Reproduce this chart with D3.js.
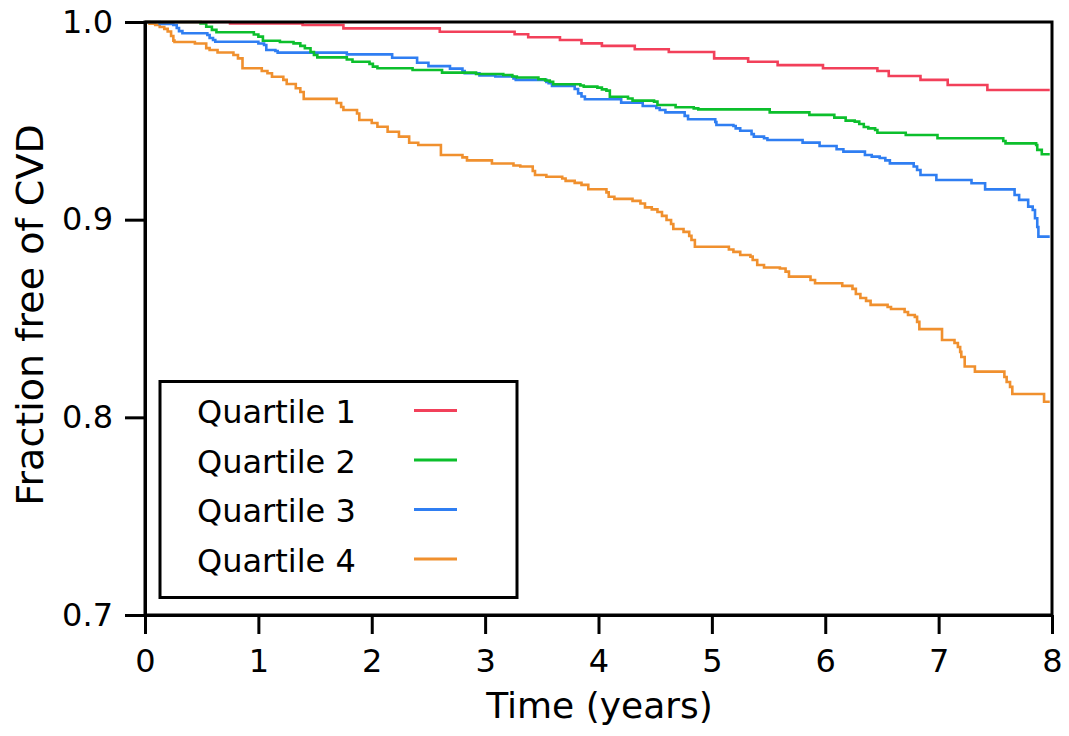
<!DOCTYPE html>
<html>
<head>
<meta charset="utf-8">
<script src="https://cdn.jsdelivr.net/npm/d3@7"></script>
<style>
  body { margin: 0; background: #fff; }
  svg text { font-family: "DejaVu Sans", sans-serif; fill: #000; }
</style>
</head>
<body>
<svg id="chart" width="1069" height="736"></svg>
<script>
// 1: DATA (step points: time in years, fraction free after the drop)
const groups = ["Quartile 1", "Quartile 2", "Quartile 3", "Quartile 4"];
const colors = ["#f2405a", "#0cbf2c", "#2f7ef2", "#f0902e"];
const xTicks = [0, 1, 2, 3, 4, 5, 6, 7, 8];
const yTicks = [0.7, 0.8, 0.9, 1.0];
const endTime = 7.98;

const q1Times = [0, 0.75, 1.39, 1.75, 2.60, 3.26, 3.38, 3.66, 3.85, 4.03, 4.32, 4.62, 5.02, 5.32, 5.58, 5.98, 6.46, 6.56, 6.84, 7.08, 7.43];
const q1Surv  = [1, 0.9993, 0.9985, 0.9968, 0.9951, 0.9938, 0.9923, 0.9909, 0.9892, 0.9879, 0.9862, 0.9848, 0.9816, 0.9799, 0.9782, 0.9766, 0.9752, 0.9727, 0.9707, 0.9681, 0.9656];

const q2Times = [0, 0.49, 0.54, 0.59, 0.63, 0.96, 1.00, 1.04, 1.19, 1.31, 1.37, 1.41, 1.46, 1.49, 1.52, 1.78, 1.83, 1.98, 2.01, 2.05, 2.36, 2.62, 2.92, 3.16, 3.24, 3.28, 3.47, 3.53, 3.57, 3.60, 3.84, 3.87, 3.99, 4.03, 4.07, 4.10, 4.26, 4.30, 4.49, 4.52, 4.68, 4.84, 4.88, 5.51, 5.86, 6.08, 6.18, 6.26, 6.30, 6.34, 6.38, 6.44, 6.46, 6.71, 6.99, 7.57, 7.59, 7.86, 7.87, 7.91];
const q2Surv  = [1, 0.9993, 0.9976, 0.9960, 0.9948, 0.9937, 0.9926, 0.9905, 0.9899, 0.9892, 0.9879, 0.9867, 0.9848, 0.9833, 0.9821, 0.9810, 0.9799, 0.9788, 0.9774, 0.9766, 0.9757, 0.9744, 0.9737, 0.9732, 0.9724, 0.9719, 0.9710, 0.9704, 0.9698, 0.9685, 0.9679, 0.9673, 0.9668, 0.9659, 0.9653, 0.9622, 0.9613, 0.9602, 0.9597, 0.9580, 0.9569, 0.9563, 0.9558, 0.9543, 0.9530, 0.9516, 0.9501, 0.9496, 0.9484, 0.9469, 0.9462, 0.9454, 0.9440, 0.9428, 0.9412, 0.9398, 0.9386, 0.9378, 0.9353, 0.9331];

const q3Times = [0, 0.13, 0.25, 0.28, 0.30, 0.33, 0.55, 0.57, 0.60, 0.62, 1.00, 1.05, 1.07, 1.15, 1.17, 1.78, 2.18, 2.40, 2.50, 2.69, 2.80, 2.82, 2.95, 3.09, 3.25, 3.27, 3.54, 3.56, 3.59, 3.79, 3.82, 3.85, 3.88, 4.20, 4.39, 4.51, 4.54, 4.59, 4.76, 4.79, 5.03, 5.04, 5.19, 5.21, 5.25, 5.35, 5.37, 5.46, 5.49, 5.80, 5.95, 6.10, 6.16, 6.35, 6.41, 6.48, 6.53, 6.57, 6.78, 6.81, 6.84, 6.98, 7.29, 7.41, 7.67, 7.71, 7.79, 7.83, 7.85, 7.87, 7.88];
const q3Surv  = [1, 0.9990, 0.9985, 0.9970, 0.9954, 0.9943, 0.9934, 0.9919, 0.9909, 0.9900, 0.9891, 0.9884, 0.9858, 0.9853, 0.9845, 0.9836, 0.9819, 0.9794, 0.9777, 0.9764, 0.9752, 0.9741, 0.9729, 0.9724, 0.9715, 0.9707, 0.9697, 0.9690, 0.9676, 0.9661, 0.9639, 0.9623, 0.9609, 0.9592, 0.9575, 0.9565, 0.9555, 0.9543, 0.9525, 0.9508, 0.9494, 0.9479, 0.9474, 0.9462, 0.9450, 0.9433, 0.9420, 0.9412, 0.9403, 0.9390, 0.9373, 0.9356, 0.9344, 0.9327, 0.9319, 0.9312, 0.9300, 0.9285, 0.9269, 0.9251, 0.9226, 0.9201, 0.9184, 0.9153, 0.9125, 0.9100, 0.9066, 0.9049, 0.9007, 0.8963, 0.8914];

const q4Times = [0, 0.04, 0.09, 0.13, 0.17, 0.20, 0.23, 0.25, 0.26, 0.44, 0.54, 0.57, 0.64, 0.78, 0.82, 0.86, 1.03, 1.08, 1.12, 1.22, 1.25, 1.33, 1.37, 1.40, 1.69, 1.73, 1.75, 1.87, 1.89, 2.00, 2.05, 2.14, 2.24, 2.33, 2.41, 2.61, 2.80, 2.84, 3.06, 3.25, 3.31, 3.42, 3.44, 3.54, 3.68, 3.71, 3.79, 3.85, 3.91, 4.07, 4.09, 4.14, 4.30, 4.37, 4.41, 4.47, 4.52, 4.56, 4.60, 4.64, 4.66, 4.75, 4.80, 4.82, 4.85, 5.15, 5.19, 5.25, 5.34, 5.36, 5.40, 5.46, 5.60, 5.65, 5.68, 5.87, 5.91, 6.15, 6.24, 6.27, 6.31, 6.36, 6.40, 6.55, 6.58, 6.70, 6.73, 6.79, 6.81, 6.83, 7.03, 7.14, 7.17, 7.19, 7.20, 7.23, 7.32, 7.58, 7.60, 7.63, 7.65, 7.93];
const q4Surv  = [1, 0.9992, 0.9985, 0.9975, 0.9965, 0.9952, 0.9929, 0.9906, 0.9899, 0.9891, 0.9868, 0.9858, 0.9846, 0.9833, 0.9816, 0.9766, 0.9752, 0.9741, 0.9723, 0.9707, 0.9686, 0.9665, 0.9646, 0.9611, 0.9590, 0.9570, 0.9555, 0.9537, 0.9504, 0.9489, 0.9470, 0.9445, 0.9420, 0.9389, 0.9378, 0.9327, 0.9315, 0.9300, 0.9284, 0.9274, 0.9269, 0.9246, 0.9226, 0.9217, 0.9208, 0.9196, 0.9186, 0.9176, 0.9154, 0.9138, 0.9116, 0.9105, 0.9095, 0.9082, 0.9062, 0.9052, 0.9039, 0.9019, 0.8998, 0.8978, 0.8953, 0.8938, 0.8918, 0.8897, 0.8863, 0.8849, 0.8837, 0.8821, 0.8813, 0.8796, 0.8771, 0.8758, 0.8753, 0.8737, 0.8712, 0.8695, 0.8678, 0.8665, 0.8650, 0.8624, 0.8604, 0.8589, 0.8569, 0.8558, 0.8548, 0.8533, 0.8518, 0.8508, 0.8483, 0.8446, 0.8391, 0.8376, 0.8356, 0.8331, 0.8305, 0.8257, 0.8231, 0.8204, 0.8179, 0.8154, 0.8118, 0.8079];

const allTimes = [q1Times, q2Times, q3Times, q4Times];
const allSurv = [q1Surv, q2Surv, q3Surv, q4Surv];

// 2: LAYOUT
const margin = { top: 22, right: 17, bottom: 121, left: 145 };
const width = 1069 - margin.left - margin.right;
const height = 736 - margin.top - margin.bottom;

const svg = d3.select("#chart")
    .append("g")
    .attr("transform", `translate(${margin.left},${margin.top})`);

// 3: SCALES
const xScale = d3.scaleLinear().domain([0, 8]).range([0, width]);
const yScale = d3.scaleLinear().domain([0.7, 1.0]).range([height, 0]);

// 4: CURVES
const line = d3.line()
    .x(d => xScale(d.t))
    .y(d => yScale(d.s))
    .curve(d3.curveStepAfter);

const series = groups.map((g, i) => {
    const pts = allTimes[i].map((t, j) => ({ t: t, s: allSurv[i][j] }));
    pts.push({ t: endTime, s: allSurv[i][allSurv[i].length - 1] });
    return pts;
});

// draw last group first so red sits on top like the original
[3, 2, 1, 0].forEach(i => {
    svg.append("path")
        .datum(series[i])
        .attr("d", line)
        .attr("fill", "none")
        .attr("stroke", colors[i])
        .attr("stroke-width", 2.6);
});

// 5: AXES + FRAME
svg.append("rect")
    .attr("x", 0).attr("y", 0)
    .attr("width", width).attr("height", height)
    .attr("fill", "none")
    .attr("stroke", "#000")
    .attr("stroke-width", 3);

const xAxis = svg.append("g")
    .attr("transform", `translate(0,${height})`)
    .call(d3.axisBottom(xScale).tickValues(xTicks).tickFormat(d3.format("d"))
        .tickSize(19).tickSizeOuter(0).tickPadding(15));

const yAxis = svg.append("g")
    .call(d3.axisLeft(yScale).tickValues(yTicks).tickFormat(d3.format(".1f"))
        .tickSize(20).tickSizeOuter(0).tickPadding(12));

[xAxis, yAxis].forEach(ax => {
    ax.select(".domain").attr("stroke-width", 3);
    ax.selectAll(".tick line").attr("stroke-width", 3);
    ax.selectAll(".tick text").style("font-size", "32px").attr("fill", "#000");
});

// 6: LABELS
svg.append("text")
    .attr("x", width / 2 + 1)
    .attr("y", height + 103)
    .attr("text-anchor", "middle")
    .style("font-size", "36px")
    .text("Time (years)");

svg.append("text")
    .attr("transform", `translate(${43 - margin.left},${315 - margin.top}) rotate(-90)`)
    .attr("text-anchor", "middle")
    .style("font-size", "38px")
    .text("Fraction free of CVD");

// Legend
const legend = svg.append("g")
    .attr("transform", `translate(${160 - margin.left},${381.5 - margin.top})`);

legend.append("rect")
    .attr("width", 357)
    .attr("height", 216)
    .attr("fill", "#fff")
    .attr("stroke", "#000")
    .attr("stroke-width", 3);

const rows = legend.selectAll(".row")
    .data(groups)
    .enter()
    .append("g")
    .attr("class", "row")
    .attr("transform", (d, i) => `translate(0, ${29 + i * 49.5})`);

rows.append("text")
    .attr("x", 37)
    .attr("y", 12.5)
    .style("font-size", "32px")
    .text(d => d);

rows.append("line")
    .attr("x1", 254).attr("x2", 297)
    .attr("y1", 0).attr("y2", 0)
    .attr("stroke", (d, i) => colors[i])
    .attr("stroke-width", 3);
</script>
</body>
</html>
